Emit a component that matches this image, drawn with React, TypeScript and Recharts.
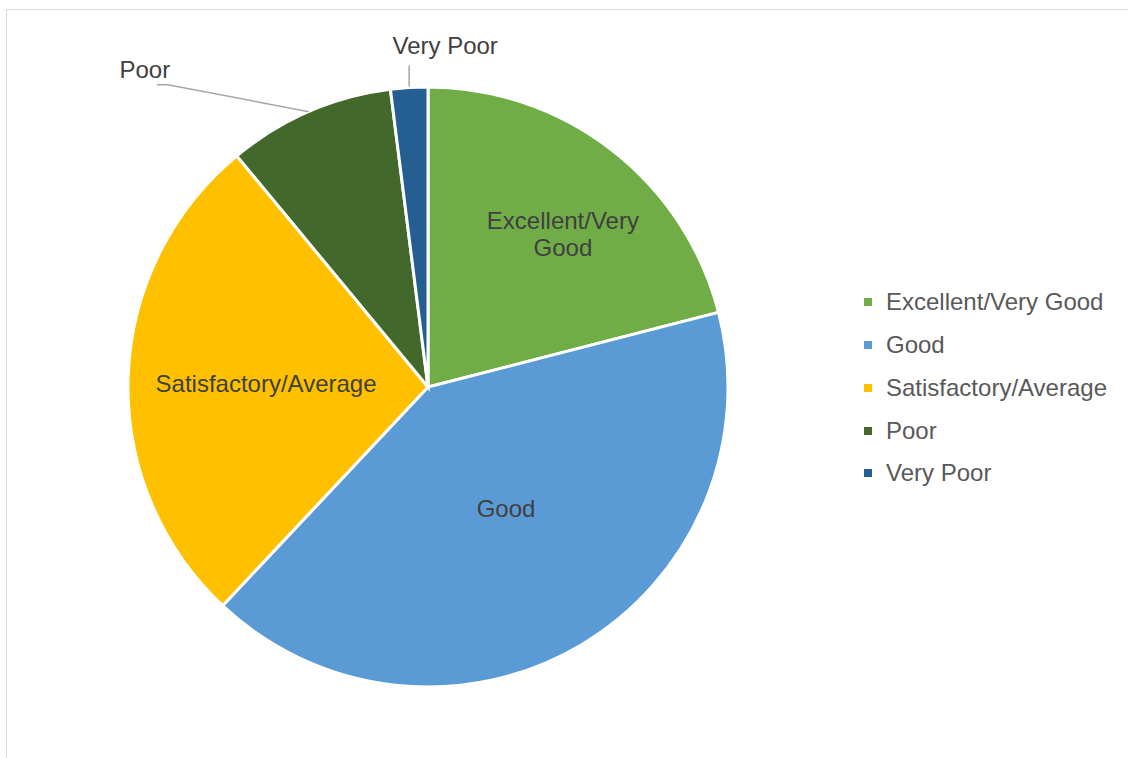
import { PieChart, Pie, Cell, Legend } from 'recharts';

const categories = ['Excellent/Very Good', 'Good', 'Satisfactory/Average', 'Poor', 'Very Poor'];
const shares = [21, 41, 27, 9, 2];
const colors = ['#70AD47', '#5B9BD5', '#FFC000', '#43682B', '#255E91'];

const data = categories.map((name, i) => ({ name, value: shares[i] }));

const FONT = '"Liberation Sans", Arial, sans-serif';
const FS = 24;
const RADIAN = Math.PI / 180;

// radius factor / angle nudge for the inside labels (Excel best fit)
const inside: Record<number, [number, number]> = {
  0: [0.68, -3.6],
  1: [0.48, 2.2],
  2: [0.54, 0.4],
};

function renderLabel(props: any) {
  const { cx, cy, midAngle, outerRadius, index, name } = props;
  const tweak = inside[index];
  if (tweak) {
    const a = (midAngle + tweak[1]) * RADIAN;
    const r = outerRadius * tweak[0];
    const x = cx + r * Math.cos(a);
    const y = cy - r * Math.sin(a);
    const lines = name === 'Excellent/Very Good' ? ['Excellent/Very', 'Good'] : [name];
    const lh = 27;
    return (
      <text x={x} y={y} textAnchor="middle" fill="#404040" fontSize={FS} fontFamily={FONT}>
        {lines.map((l: string, k: number) => (
          <tspan key={k} x={x} y={y + (k - (lines.length - 1) / 2) * lh} dominantBaseline="central">
            {l}
          </tspan>
        ))}
      </text>
    );
  }
  const a = midAngle * RADIAN;
  const px = cx + outerRadius * Math.cos(a);
  const py = cy - outerRadius * Math.sin(a);
  if (index === 3) {
    const ex = px - 141;
    const ey = py - 27;
    return (
      <g>
        <polyline points={`${px},${py} ${ex},${ey} ${ex - 11},${ey}`} fill="none" stroke="#A6A6A6" strokeWidth={1.5} />
        <text x={ex - 23} y={ey - 15} textAnchor="middle" dominantBaseline="central" fill="#404040" fontSize={FS} fontFamily={FONT}>
          {name}
        </text>
      </g>
    );
  }
  return (
    <g>
      <polyline points={`${px},${py - 1} ${px},${py - 22}`} fill="none" stroke="#A6A6A6" strokeWidth={1.5} />
      <text x={px + 36} y={py - 42} textAnchor="middle" dominantBaseline="central" fill="#404040" fontSize={FS} fontFamily={FONT}>
        {name}
      </text>
    </g>
  );
}

function LegendList() {
  return (
    <div style={{ fontFamily: FONT, fontSize: FS, color: '#595959' }}>
      {categories.map((c, i) => (
        <div key={c} style={{ display: 'flex', alignItems: 'center', height: 42.75, whiteSpace: 'nowrap' }}>
          <span style={{ width: 8, height: 8, background: colors[i], marginRight: 14, marginLeft: 6 }} />
          <span>{c}</span>
        </div>
      ))}
    </div>
  );
}

export default function App() {
  return (
    <div style={{ position: 'absolute', left: 0, top: 0, width: 1128, height: 758, overflow: 'hidden', background: '#fff' }}>
      <div
        style={{
          position: 'absolute',
          left: 6,
          top: 9,
          width: 1200,
          height: 800,
          borderTop: '1.5px solid #D9D9D9',
          borderLeft: '1.5px solid #D9D9D9',
        }}
      />
      <div style={{ position: 'absolute', left: 0, top: 0 }}>
        <PieChart width={1128} height={758} margin={{ top: 0, right: 0, bottom: 0, left: 0 }}>
          <Pie
            data={data}
            dataKey="value"
            nameKey="name"
            cx={428}
            cy={387}
            outerRadius={300}
            startAngle={90}
            endAngle={-270}
            stroke="#FFFFFF"
            strokeWidth={3}
            label={renderLabel}
            labelLine={false}
            isAnimationActive={false}
          >
            {data.map((d, i) => (
              <Cell key={d.name} fill={colors[i]} />
            ))}
          </Pie>
          <Legend
            layout="vertical"
            content={<LegendList />}
            wrapperStyle={{ left: 858, top: 281, width: 270, right: 'auto', bottom: 'auto' }}
          />
        </PieChart>
      </div>
    </div>
  );
}
